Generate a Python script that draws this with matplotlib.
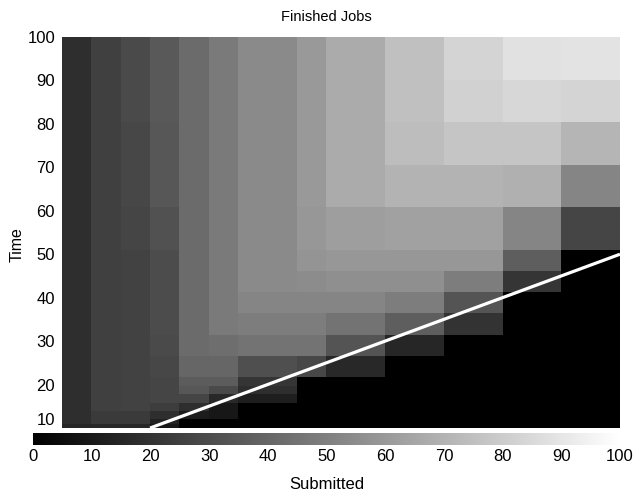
import numpy as np
import matplotlib.pyplot as plt

plt.rcParams['font.family'] = ['Liberation Sans', 'DejaVu Sans']

# cell edges of the grid
submitted_edges = [5, 10, 15, 20, 25, 30, 35, 45, 50, 60, 70, 80, 90, 100]
time_edges = [10, 10.9, 12.1, 13.9, 15.75, 17.8, 19.7, 21.7, 26.6, 31.4,
              36.5, 41.3, 46.1, 51, 60.9, 70.5, 80.4, 90.1, 100]

# finished jobs, one row per time band (bottom to top), one column per submitted band
finished = np.array([
    [15, 16, 16,  9,  0,  0,  0,  0,  0,  0,  0,  0,  0],
    [18, 23, 23, 13,  0,  0,  0,  0,  0,  0,  0,  0,  0],
    [18, 23, 23, 18, 11,  9,  0,  0,  0,  0,  0,  0,  0],
    [18, 25, 26, 24, 18,  9,  0,  0,  0,  0,  0,  0,  0],
    [18, 25, 26, 27, 27, 16, 12,  0,  0,  0,  0,  0,  0],
    [18, 25, 26, 27, 34, 29, 18,  0,  0,  0,  0,  0,  0],
    [18, 25, 26, 27, 36, 36, 21,  0,  0,  0,  0,  0,  0],
    [18, 25, 26, 28, 40, 40, 31, 28, 16,  0,  0,  0,  0],
    [18, 25, 26, 29, 42, 43, 45, 45, 33, 15,  0,  0,  0],
    [18, 25, 26, 30, 42, 48, 49, 49, 45, 37, 20,  0,  0],
    [18, 25, 26, 30, 42, 48, 52, 52, 52, 49, 33,  0,  0],
    [18, 25, 26, 30, 42, 48, 54, 55, 56, 56, 49, 21,  0],
    [18, 25, 26, 30, 42, 48, 54, 58, 59, 59, 59, 37,  0],
    [18, 25, 27, 32, 42, 48, 54, 59, 62, 63, 63, 52, 27],
    [18, 25, 28, 34, 42, 48, 54, 60, 67, 70, 70, 69, 52],
    [18, 25, 28, 34, 42, 48, 54, 60, 67, 74, 77, 77, 71],
    [18, 25, 29, 35, 42, 48, 54, 60, 67, 75, 82, 84, 83],
    [18, 25, 29, 35, 42, 48, 54, 60, 67, 75, 83, 88, 89],
])

# reference line
line_submitted = [20, 100]
line_time = [10, 50]

fig = plt.figure(figsize=(6.34, 4.96), dpi=100)
ax = fig.add_axes([62/634, 68/496, 558/634, 391/496])
cax = fig.add_axes([33/634, 51/496, 587/634, 12/496])

mesh = ax.pcolormesh(submitted_edges, time_edges, finished, cmap='gray', vmin=0, vmax=100)
ax.plot(line_submitted, line_time, color='white', lw=2.3, solid_capstyle='butt')
ax.set_xlim(5, 100)
ax.set_ylim(10, 100)
ax.set_xticks([])
ax.set_yticks(range(10, 101, 10))
ax.tick_params(axis='y', length=0, pad=5, labelsize=12)
for s in ax.spines.values():
    s.set_visible(False)
ax.get_yticklabels()[0].set_va('bottom')
fig.text(326.5/634, 1 - 17/496, 'Finished Jobs', ha='center', va='center', fontsize=10.5)
fig.text(17/634, 1 - 245/496, 'Time', rotation=90, ha='center', va='center', fontsize=11.5)

cb = fig.colorbar(mesh, cax=cax, orientation='horizontal')
cb.outline.set_visible(False)
cb.set_ticks(range(0, 101, 10))
cax.tick_params(length=0, pad=3, labelsize=12)
cb.set_label('Submitted', fontsize=12, labelpad=9)

fig.savefig('out.png', dpi=100)
plt.close()
